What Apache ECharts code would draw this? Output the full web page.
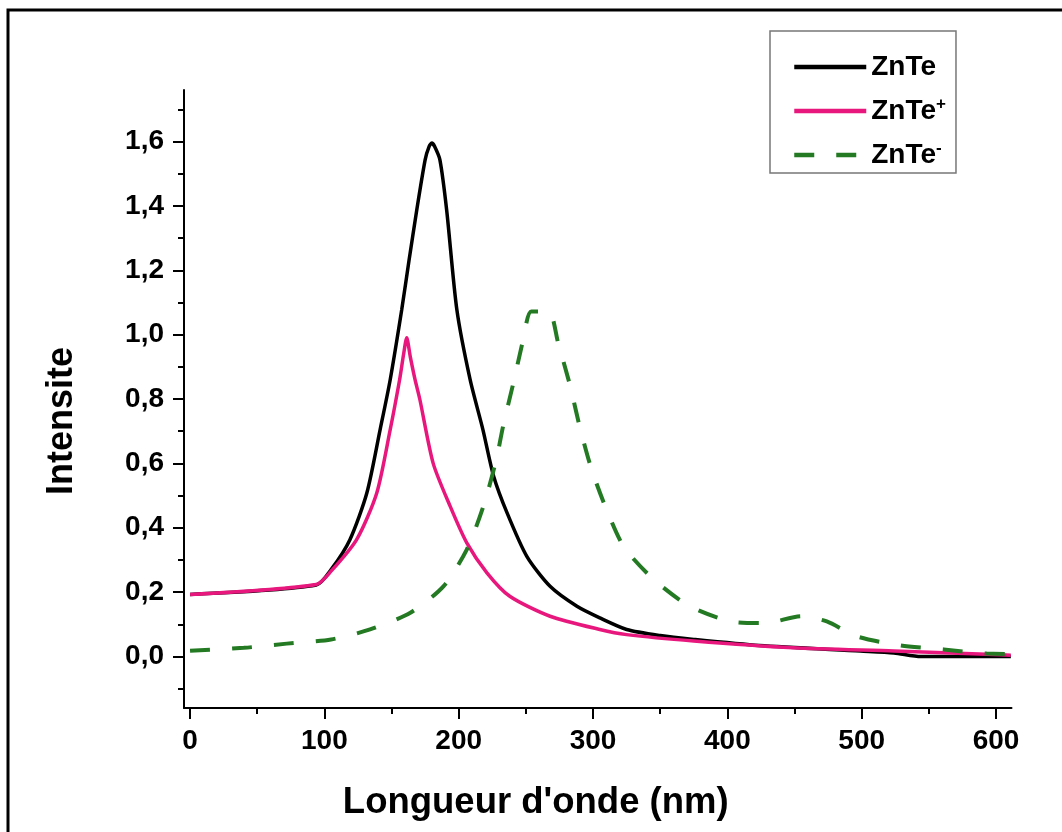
<!DOCTYPE html>
<html>
<head>
<meta charset="utf-8">
<script src="https://cdn.jsdelivr.net/npm/echarts@6/dist/echarts.min.js"></script>
<style>
html,body{margin:0;padding:0;background:#fff;}
#chart{width:1062px;height:832px;}
</style>
</head>
<body>
<div id="chart"></div>
<script>
// ---- data ----
const seriesNames = ['ZnTe', 'ZnTe+', 'ZnTe-'];

const znteX = [0, 94, 105, 119, 131.6, 141.5, 149, 157.6, 163, 168.8, 175, 178, 180, 182, 186, 191, 198.6, 208.5, 218, 226, 236, 250.7, 268, 288, 305, 325, 350, 375, 424, 499, 524, 544, 570, 611];
const znteY = [0.193, 0.222, 0.27, 0.363, 0.508, 0.705, 0.86, 1.078, 1.23, 1.388, 1.543, 1.585, 1.595, 1.585, 1.543, 1.388, 1.078, 0.86, 0.705, 0.56, 0.446, 0.311, 0.218, 0.156, 0.12, 0.084, 0.065, 0.053, 0.034, 0.017, 0.011, 0.0, 0.0, 0.0];

const zntePlusX = [0, 94, 105, 124, 139, 149, 156, 159, 161.3, 164, 167.5, 171, 181, 193.6, 206, 221, 238, 268, 305, 325, 375, 449, 524, 598, 611];
const zntePlusY = [0.193, 0.224, 0.265, 0.363, 0.508, 0.705, 0.86, 0.94, 0.99, 0.93, 0.86, 0.8, 0.6, 0.467, 0.353, 0.26, 0.187, 0.125, 0.084, 0.068, 0.048, 0.027, 0.017, 0.006, 0.004];

const znteMinusX = [0, 40, 72, 105, 134, 164, 188.6, 206, 218.4, 228, 233, 240.7, 248, 254, 267, 274, 283, 290, 299, 310, 323, 345, 372, 404, 428, 455, 474, 496, 529, 561, 593, 610];
const znteMinusY = [0.018, 0.027, 0.04, 0.053, 0.084, 0.136, 0.218, 0.332, 0.467, 0.612, 0.715, 0.85, 0.984, 1.072, 1.072, 0.974, 0.84, 0.715, 0.58, 0.457, 0.34, 0.24, 0.156, 0.108, 0.104, 0.125, 0.109, 0.063, 0.034, 0.022, 0.009, 0.008];

const xMajorTicks = [0, 100, 200, 300, 400, 500, 600];
const xMinorTicks = [50, 150, 250, 350, 450, 550];
const yMajorTicks = [0, 0.2, 0.4, 0.6, 0.8, 1.0, 1.2, 1.4, 1.6];
const yMinorTicks = [-0.1, 0.1, 0.3, 0.5, 0.7, 0.9, 1.1, 1.3, 1.5, 1.7];

const xTitle = "Longueur d'onde (nm)";
const yTitle = 'Intensite';

// ---- chart ----
const X_MIN = -4.5, X_MAX = 611.5, Y_MIN = -0.16, Y_MAX = 1.76;
const FONT = 'Liberation Sans, Arial, sans-serif';
const pairs = (xs, ys) => xs.map((x, i) => [x, ys[i]]);

const chart = echarts.init(document.getElementById('chart'), null, {renderer: 'canvas'});

const axisLineStyle = {show: true, onZero: false, lineStyle: {color: '#000', width: 2}};

const option = {
  backgroundColor: '#fff',
  animation: false,
  grid: {left: 184, right: 50.5, top: 90, bottom: 124, outerBoundsMode: 'none', containLabel: false},
  xAxis: [
    {
      type: 'value', min: X_MIN, max: X_MAX, position: 'bottom',
      axisLine: axisLineStyle,
      splitLine: {show: false},
      axisTick: {show: true, inside: false, length: 11, customValues: xMajorTicks, lineStyle: {color: '#000', width: 2}},
      axisLabel: {show: true, customValues: xMajorTicks, margin: 19, color: '#000', fontSize: 28, fontWeight: 'bold', fontFamily: FONT},
      name: xTitle, nameLocation: 'middle', nameGap: 76,
      nameTextStyle: {color: '#000', fontSize: 36.5, fontWeight: 'bold', fontFamily: FONT, padding: [0, 124, 0, 0]}
    },
    {
      type: 'value', min: X_MIN, max: X_MAX, position: 'bottom',
      axisLine: {show: false, onZero: false}, splitLine: {show: false},
      axisTick: {show: true, inside: false, length: 6, customValues: xMinorTicks, lineStyle: {color: '#000', width: 2}},
      axisLabel: {show: false}
    }
  ],
  yAxis: [
    {
      type: 'value', min: Y_MIN, max: Y_MAX, position: 'left',
      axisLine: axisLineStyle,
      splitLine: {show: false},
      axisTick: {show: true, inside: false, length: 11, customValues: yMajorTicks, lineStyle: {color: '#000', width: 2}},
      axisLabel: {show: true, customValues: yMajorTicks, margin: 20, color: '#000', fontSize: 28, fontWeight: 'bold', fontFamily: FONT,
        formatter: v => v.toFixed(1).replace('.', ',')},
      name: yTitle, nameLocation: 'middle', nameGap: 104,
      nameTextStyle: {color: '#000', fontSize: 36, fontWeight: 'bold', fontFamily: FONT, padding: [0, 44, 0, 0]}
    },
    {
      type: 'value', min: Y_MIN, max: Y_MAX, position: 'left',
      axisLine: {show: false, onZero: false}, splitLine: {show: false},
      axisTick: {show: true, inside: false, length: 6, customValues: yMinorTicks, lineStyle: {color: '#000', width: 2}},
      axisLabel: {show: false}
    }
  ],
  legend: {
    show: true, orient: 'vertical', left: 770, top: 31,
    data: seriesNames,
    itemWidth: 72, itemHeight: 14, itemGap: 14,
    padding: [21, 10, 3, 22],
    borderColor: '#777', borderWidth: 1.5, borderRadius: 0,
    selectedMode: false,
    itemStyle: {opacity: 0},
    lineStyle: {width: 4.5},
    formatter: name => name === 'ZnTe+' ? 'ZnTe{sup|+}' : (name === 'ZnTe-' ? 'ZnTe{sup|-}' : name),
    textStyle: {
      color: '#000', fontSize: 28, fontWeight: 'bold', fontFamily: FONT, lineHeight: 30,
      rich: {sup: {fontSize: 17, fontWeight: 'bold', fontFamily: FONT, color: '#000', verticalAlign: 'top', lineHeight: 14}}
    }
  },
  graphic: [
    {type: 'polyline', silent: true, shape: {points: [[8, 832], [8, 10], [1062, 10]]}, style: {stroke: '#000', lineWidth: 3, fill: null}}
  ],
  series: [
    {
      name: 'ZnTe', type: 'line', xAxisIndex: 0, yAxisIndex: 0,
      data: pairs(znteX, znteY), showSymbol: false, symbol: 'none', smooth: 0.25,
      lineStyle: {color: '#000', width: 3.5}, itemStyle: {color: '#000'}, z: 2
    },
    {
      name: 'ZnTe+', type: 'line', xAxisIndex: 0, yAxisIndex: 0,
      data: pairs(zntePlusX, zntePlusY), showSymbol: false, symbol: 'none', smooth: 0.25,
      lineStyle: {color: '#E8177D', width: 3.5}, itemStyle: {color: '#E8177D'}, z: 3
    },
    {
      name: 'ZnTe-', type: 'line', xAxisIndex: 0, yAxisIndex: 0,
      data: pairs(znteMinusX, znteMinusY), showSymbol: false, symbol: 'none', smooth: 0.25,
      lineStyle: {color: '#237A23', width: 4, type: [20, 22], cap: 'butt'}, itemStyle: {color: '#237A23'}, z: 4
    }
  ]
};
chart.setOption(option);
</script>
</body>
</html>
